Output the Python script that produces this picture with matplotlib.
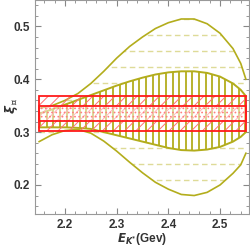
import numpy as np
import matplotlib
matplotlib.use('Agg')
import matplotlib.pyplot as plt
from matplotlib.patches import Polygon, Rectangle
from matplotlib.ticker import MultipleLocator

# Datos
energia = [2.15, 2.175, 2.2, 2.225, 2.25, 2.275, 2.3, 2.325, 2.35, 2.375,
           2.4, 2.425, 2.45, 2.475, 2.5, 2.525, 2.54, 2.55]
banda_ext_sup = [0.345, 0.350, 0.360, 0.373, 0.392, 0.415, 0.440, 0.462, 0.480, 0.496,
                 0.507, 0.514, 0.514, 0.505, 0.487, 0.458, 0.430, 0.400]
banda_ext_inf = [0.282, 0.295, 0.303, 0.305, 0.298, 0.283, 0.264, 0.243, 0.223, 0.205,
                 0.192, 0.182, 0.180, 0.186, 0.200, 0.222, 0.238, 0.260]
banda_int_sup = [0.335, 0.343, 0.352, 0.361, 0.370, 0.379, 0.388, 0.396, 0.403, 0.409,
                 0.413, 0.415, 0.415, 0.412, 0.405, 0.392, 0.380, 0.368]
banda_int_inf = [0.309, 0.309, 0.309, 0.308, 0.306, 0.300, 0.294, 0.288, 0.282, 0.276,
                 0.270, 0.266, 0.265, 0.267, 0.272, 0.282, 0.291, 0.300]
rango_x = [2.15, 2.55]
rojo_ext = [0.303, 0.368]
rojo_int = [0.321, 0.350]

olivo = '#b3ad1c'
olivo_claro = '#dedb98'
rojo = '#ff1a1a'

plt.rcParams['font.family'] = ['Liberation Sans', 'DejaVu Sans']
plt.rcParams['font.weight'] = 'bold'
plt.rcParams['mathtext.fontset'] = 'dejavusans'
plt.rcParams['hatch.linewidth'] = 0.7

fig = plt.figure(figsize=(2.5, 2.48), dpi=100)
ax = fig.add_axes([0.138, 0.137, 0.858, 0.861])

x = np.array(energia)

# Banda exterior: lineas horizontales discontinuas recortadas
poli_ext = Polygon(np.column_stack([np.r_[x, x[::-1]],
                                    np.r_[banda_ext_sup, banda_ext_inf[::-1]]]),
                   closed=True, facecolor='none', edgecolor='none')
ax.add_patch(poli_ext)
for nivel in np.arange(0.209, 0.52, 0.0305):
    ln, = ax.plot(rango_x, [nivel, nivel], color=olivo_claro, lw=1.0,
                  dashes=(4, 2.5), zorder=1)
    ln.set_clip_path(poli_ext)
ax.plot(x, banda_ext_sup, color=olivo, lw=1.2, zorder=4)
ax.plot(x, banda_ext_inf, color=olivo, lw=1.2, zorder=4)

# Banda interior: relleno blanco con rayado vertical
poli_int = Polygon(np.column_stack([np.r_[x, x[::-1]],
                                    np.r_[banda_int_sup, banda_int_inf[::-1]]]),
                   closed=True, facecolor='white', edgecolor='none', zorder=2)
ax.add_patch(poli_int)
xs = np.arange(2.152, 2.55, 0.0128)
vl = ax.vlines(xs, 0.2, 0.45, color=olivo, lw=1.3, zorder=3)
vl.set_clip_path(poli_int)
ax.plot(x, banda_int_sup, color=olivo, lw=1.4, zorder=4)
ax.plot(x, banda_int_inf, color=olivo, lw=1.4, zorder=4)

# Bandas rojas
ancho = rango_x[1] - rango_x[0]
ax.add_patch(Rectangle((rango_x[0], rojo_ext[0]), ancho, rojo_ext[1] - rojo_ext[0],
                       facecolor='none', edgecolor='#ff7070', hatch='///', lw=0,
                       zorder=5))
ax.add_patch(Rectangle((rango_x[0], rojo_int[0]), ancho, rojo_int[1] - rojo_int[0],
                       facecolor='white', alpha=0.5, edgecolor='none', zorder=5))
ax.add_patch(Rectangle((rango_x[0], rojo_int[0]), ancho, rojo_int[1] - rojo_int[0],
                       facecolor='none', edgecolor='#ff7f7f', hatch='....', lw=0,
                       zorder=5))
for y0, y1 in [rojo_ext, rojo_int]:
    ax.add_patch(Rectangle((rango_x[0], y0), ancho, y1 - y0,
                           facecolor='none', edgecolor=rojo, lw=1.3, zorder=6))

ax.set_xlim(2.141, 2.556)
ax.set_ylim(0.145, 0.549)
ax.xaxis.set_major_locator(MultipleLocator(0.1))
ax.xaxis.set_minor_locator(MultipleLocator(0.02))
ax.yaxis.set_major_locator(MultipleLocator(0.1))
ax.yaxis.set_minor_locator(MultipleLocator(0.02))
ax.tick_params(which='both', direction='in', top=True, right=True,
               color='#888888', labelsize=8.5, labelcolor='#333333')
ax.tick_params(which='major', length=4, width=0.8)
ax.tick_params(which='minor', length=2, width=0.6)
for lab in ax.get_xticklabels() + ax.get_yticklabels():
    lab.set_fontweight('bold')
for s in ax.spines.values():
    s.set_color('#999999')
    s.set_linewidth(0.8)

# Etiquetas de los ejes
fig.text(0.57, 0.035, r'$E_{K^{*}}$(Gev)', fontsize=8.5, fontweight='bold',
         color='#333333', ha='center', va='center')
fig.text(0.045, 0.575, r'$\xi_{\perp}$', fontsize=9.5, color='#333333',
         ha='center', va='center', rotation=90)

fig.savefig('out.png', dpi=100)
